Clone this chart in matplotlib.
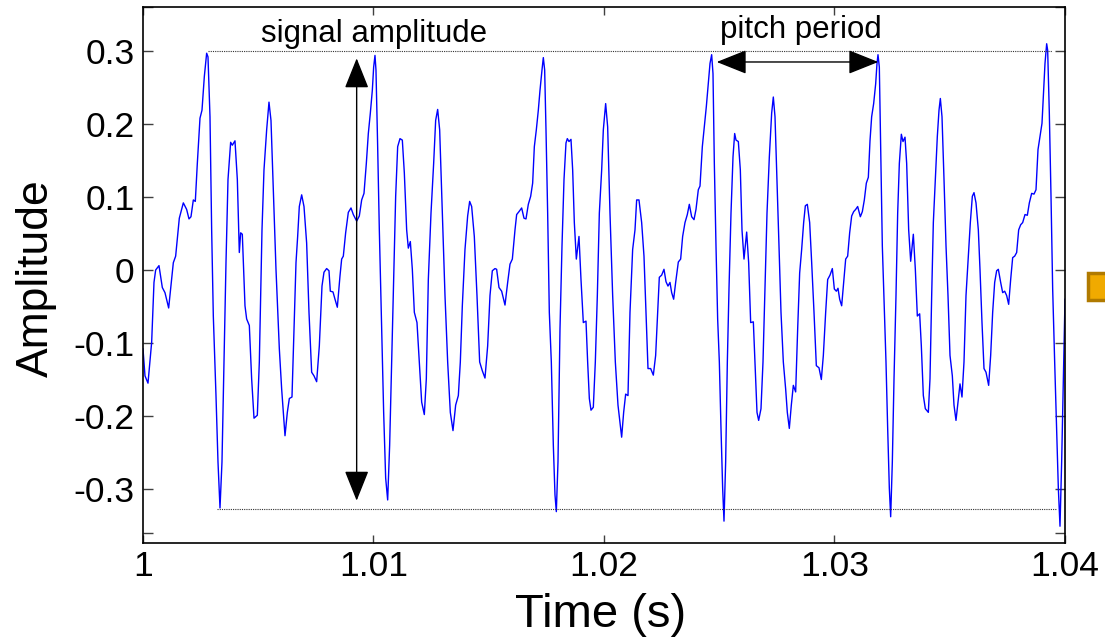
import matplotlib
matplotlib.use('Agg')
import matplotlib.pyplot as plt
import numpy as np
from matplotlib.patches import Rectangle

plt.rcParams['font.family'] = ['Liberation Sans', 'DejaVu Sans']

# waveform: time offset from 1 s in ms, amplitude
time_ms = [
    0.0, 0.087, 0.217, 0.376, 0.477, 0.55, 0.694, 0.839, 0.954, 1.114,
    1.316, 1.417, 1.576, 1.75, 1.894, 1.996, 2.082, 2.184, 2.27, 2.357,
    2.473, 2.56, 2.661, 2.762, 2.82, 2.907, 2.979, 3.051, 3.167, 3.254,
    3.341, 3.427, 3.514, 3.601, 3.688, 3.803, 3.876, 3.991, 4.093, 4.179,
    4.237, 4.309, 4.425, 4.497, 4.613, 4.714, 4.816, 4.96, 5.047, 5.163,
    5.249, 5.365, 5.466, 5.553, 5.654, 5.77, 5.915, 6.016, 6.161, 6.262,
    6.349, 6.464, 6.551, 6.638, 6.71, 6.782, 6.884, 6.985, 7.1, 7.202,
    7.317, 7.419, 7.534, 7.65, 7.766, 7.852, 7.968, 8.069,
    8.127, 8.243, 8.33, 8.431, 8.547, 8.619, 8.691, 8.792, 8.908, 9.024,
    9.125, 9.27, 9.385, 9.487, 9.588, 9.689, 9.776, 9.863, 9.949, 10.007,
    10.065, 10.108, 10.181, 10.253, 10.354, 10.441, 10.528, 10.615, 10.701, 10.788,
    10.875, 10.962, 11.049, 11.15, 11.251, 11.338, 11.439, 11.511, 11.598, 11.685,
    11.772, 11.887, 11.988, 12.09, 12.205, 12.292, 12.379, 12.495, 12.61, 12.697,
    12.784, 12.871, 12.986, 13.102, 13.218, 13.333, 13.449, 13.565, 13.681, 13.767,
    13.854, 13.969, 14.085, 14.172, 14.259, 14.374, 14.49, 14.606, 14.721, 14.837,
    14.953, 15.054, 15.155, 15.271, 15.343, 15.445, 15.56, 15.705, 15.821, 15.922,
    16.024, 16.139,
    16.211, 16.312, 16.428, 16.529, 16.616, 16.717, 16.819, 16.905, 16.978, 17.064,
    17.151, 17.223, 17.31, 17.368, 17.426, 17.484, 17.556, 17.628, 17.715, 17.802,
    17.874, 17.932, 18.004, 18.091, 18.178, 18.265, 18.351, 18.409, 18.482, 18.568,
    18.641, 18.713, 18.8, 18.915, 19.002, 19.103, 19.219, 19.291, 19.364, 19.436,
    19.537, 19.624, 19.711, 19.798, 19.899, 19.971, 20.072, 20.159, 20.26, 20.376,
    20.492, 20.607, 20.766, 20.853, 20.94, 21.041, 21.128, 21.243, 21.345, 21.417,
    21.518, 21.634, 21.735, 21.822, 21.909, 22.024, 22.14, 22.241, 22.328, 22.4,
    22.502, 22.603, 22.69, 22.776, 22.863, 22.936, 23.022, 23.109, 23.225, 23.326,
    23.412, 23.514, 23.615, 23.702, 23.803, 23.905, 23.991, 24.092, 24.165,
    24.266, 24.353, 24.44, 24.526, 24.599, 24.671, 24.729, 24.787, 24.859, 24.931,
    25.004, 25.076, 25.148, 25.206, 25.278, 25.351, 25.423, 25.51, 25.597, 25.669,
    25.727, 25.828, 25.915, 25.987, 26.074, 26.19, 26.276, 26.363, 26.479, 26.551,
    26.638, 26.71, 26.811, 26.898, 26.985, 27.072, 27.173, 27.274, 27.346, 27.419,
    27.505, 27.592, 27.679, 27.78, 27.881, 27.953, 28.04, 28.127, 28.214, 28.315,
    28.402, 28.489, 28.575, 28.662, 28.735, 28.821, 28.923, 29.01, 29.111, 29.212,
    29.328, 29.429, 29.516, 29.617, 29.704, 29.805, 29.906, 29.993, 30.08, 30.152,
    30.224, 30.311, 30.398, 30.485, 30.571, 30.658, 30.745, 30.832, 30.918, 31.005,
    31.121, 31.208, 31.294, 31.381, 31.468, 31.54, 31.612, 31.699, 31.786, 31.844,
    31.887, 31.945, 32.003, 32.075,
    32.177, 32.234, 32.307, 32.379, 32.437, 32.509, 32.582, 32.668, 32.741, 32.813,
    32.9, 32.972, 33.059, 33.131, 33.218, 33.305, 33.42, 33.507, 33.594, 33.695,
    33.767, 33.854, 33.941, 34.071, 34.143, 34.216, 34.288, 34.375, 34.461, 34.534,
    34.592, 34.664, 34.751, 34.838, 34.924, 35.011, 35.112, 35.184, 35.271, 35.358,
    35.445, 35.531, 35.618, 35.705, 35.806, 35.893, 35.98, 36.052, 36.139, 36.24,
    36.312, 36.399, 36.486, 36.573, 36.688, 36.775, 36.862, 36.949, 37.035, 37.108,
    37.209, 37.296, 37.383, 37.469, 37.556, 37.643, 37.73, 37.817, 37.903, 37.99,
    38.077, 38.164, 38.265, 38.366, 38.453, 38.554, 38.655, 38.742, 38.829, 38.915,
    39.002, 39.06, 39.132, 39.205, 39.248, 39.32, 39.393, 39.465, 39.552, 39.638,
    39.711, 39.783, 39.855, 39.928, 39.971, 40.0,
]
amplitude = [
    -0.108, -0.145, -0.155, -0.099, -0.017, 0.0, 0.006, -0.024, -0.031, -0.052,
    0.01, 0.019, 0.071, 0.092, 0.083, 0.07, 0.073, 0.096, 0.094, 0.146,
    0.208, 0.219, 0.265, 0.297, 0.292, 0.21, 0.055, -0.063, -0.172, -0.263,
    -0.326, -0.263, -0.126, 0.01, 0.124, 0.175, 0.171, 0.177, 0.124, 0.024,
    0.051, 0.049, -0.049, -0.067, -0.076, -0.149, -0.203, -0.199, -0.126, 0.055,
    0.137, 0.192, 0.23, 0.205, 0.11, 0.001, -0.108, -0.163, -0.227, -0.195,
    -0.176, -0.174, -0.081, 0.01, 0.046, 0.087, 0.103, 0.087, 0.037, -0.058,
    -0.14, -0.145, -0.153, -0.104, -0.022, -0.003, 0.002, -0.001,
    -0.029, -0.03, -0.04, -0.051, -0.008, 0.015, 0.019, 0.051, 0.079, 0.085,
    0.076, 0.067, 0.074, 0.096, 0.105, 0.146, 0.187, 0.215, 0.246, 0.278,
    0.294, 0.274, 0.169, 0.055, -0.081, -0.195, -0.285, -0.315, -0.24, -0.126,
    -0.013, 0.101, 0.169, 0.18, 0.178, 0.133, 0.055, 0.03, 0.039, 0.001,
    -0.058, -0.072, -0.126, -0.181, -0.198, -0.149, -0.013, 0.078, 0.146, 0.205,
    0.22, 0.192, 0.078, -0.035, -0.126, -0.195, -0.22, -0.185, -0.172, -0.126,
    -0.049, 0.028, 0.074, 0.094, 0.087, 0.046, -0.035, -0.126, -0.138, -0.148,
    -0.104, -0.035, -0.001, 0.002, 0.001, -0.024, -0.029, -0.048, -0.017, 0.008,
    0.015, 0.055,
    0.076, 0.08, 0.085, 0.071, 0.07, 0.09, 0.101, 0.119, 0.169, 0.192,
    0.219, 0.246, 0.274, 0.291, 0.274, 0.192, 0.078, -0.058, -0.126, -0.24,
    -0.308, -0.331, -0.263, -0.081, 0.033, 0.124, 0.174, 0.18, 0.176, 0.179,
    0.137, 0.065, 0.015, 0.046, -0.013, -0.072, -0.07, -0.126, -0.176, -0.192,
    -0.188, -0.126, -0.035, 0.078, 0.137, 0.192, 0.228, 0.196, 0.078, -0.035,
    -0.126, -0.185, -0.229, -0.195, -0.17, -0.172, -0.058, 0.028, 0.055, 0.096,
    0.096, 0.065, 0.019, -0.058, -0.135, -0.135, -0.144, -0.117, -0.058, -0.01,
    -0.007, 0.001, -0.016, -0.022, -0.017, -0.031, -0.04, -0.017, 0.011, 0.015,
    0.046, 0.065, 0.076, 0.09, 0.073, 0.069, 0.083, 0.11, 0.115,
    0.169, 0.196, 0.224, 0.255, 0.283, 0.295, 0.269, 0.146, 0.033, -0.067,
    -0.126, -0.217, -0.299, -0.344, -0.263, -0.126, -0.026, 0.078, 0.155, 0.187,
    0.178, 0.176, 0.137, 0.055, 0.015, 0.052, 0.01, -0.072, -0.071, -0.126,
    -0.195, -0.206, -0.19, -0.126, -0.026, 0.078, 0.155, 0.215, 0.237, 0.21,
    0.124, 0.033, -0.058, -0.126, -0.163, -0.195, -0.217, -0.185, -0.158, -0.167,
    -0.081, -0.004, 0.028, 0.065, 0.088, 0.09, 0.065, 0.01, -0.058, -0.131,
    -0.134, -0.15, -0.117, -0.058, -0.013, -0.007, 0.002, -0.026, -0.029, -0.025,
    -0.04, -0.049, -0.017, 0.015, 0.019, 0.051, 0.074, 0.08, 0.083, 0.087,
    0.073, 0.08, 0.096, 0.119, 0.127, 0.177, 0.21, 0.228, 0.255, 0.283,
    0.295, 0.278, 0.169, 0.033,
    -0.067, -0.126, -0.217, -0.299, -0.338, -0.263, -0.149, -0.035, 0.078, 0.146,
    0.186, 0.176, 0.182, 0.146, 0.055, 0.012, 0.049, 0.001, -0.063, -0.06,
    -0.104, -0.172, -0.19, -0.195, -0.149, -0.035, 0.065, 0.124, 0.183, 0.219,
    0.235, 0.21, 0.124, 0.033, -0.035, -0.117, -0.145, -0.185, -0.206, -0.181,
    -0.156, -0.174, -0.126, -0.035, 0.019, 0.065, 0.101, 0.106, 0.092, 0.055,
    0.001, -0.072, -0.135, -0.14, -0.158, -0.117, -0.058, -0.017, -0.001, 0.001,
    -0.017, -0.031, -0.029, -0.035, -0.047, -0.013, 0.017, 0.019, 0.024, 0.055,
    0.062, 0.065, 0.076, 0.075, 0.092, 0.105, 0.104, 0.11, 0.165, 0.183,
    0.201, 0.237, 0.283, 0.31, 0.301, 0.215, 0.101, -0.026, -0.126, -0.217,
    -0.299, -0.351, -0.263, -0.149, -0.08, -0.04,
]

x_ticks = [1.0, 1.01, 1.02, 1.03, 1.04]
x_tick_labels = ['1', '1.01', '1.02', '1.03', '1.04']
y_ticks = [-0.36, -0.3, -0.2, -0.1, 0.0, 0.1, 0.2, 0.3, 0.36]
y_tick_labels = ['', '-0.3', '-0.2', '-0.1', '0', '0.1', '0.2', '0.3', '']

# annotation levels (ms / amplitude)
peak_level = 0.3
trough_level = -0.327
amp_arrow_t = 9.27
period_start, period_end = 24.89, 31.9

t = 1.0 + np.array(time_ms) / 1000.0
a = np.array(amplitude)

fig = plt.figure(figsize=(11.05, 6.44), dpi=100)
ax = fig.add_axes([0.1294, 0.1568, 0.8344, 0.8323])

ax.plot(t, a, color='#0000ff', linewidth=1.0)

# dotted reference lines at max / min
ax.plot([1 + 2.82e-3, 1 + 39.44e-3], [peak_level, peak_level],
        color='0.2', linestyle=(0, (1, 1)), linewidth=0.8)
ax.plot([1 + 3.2e-3, 1 + 39.64e-3], [trough_level, trough_level],
        color='0.2', linestyle=(0, (1, 1)), linewidth=0.8)

arrow_kw = dict(arrowstyle='<|-|>,head_length=0.95,head_width=0.38',
                color='black', lw=1.0, mutation_scale=20,
                shrinkA=0, shrinkB=0)
ax.annotate('', xy=(1 + amp_arrow_t / 1000, 0.29),
            xytext=(1 + amp_arrow_t / 1000, -0.316), arrowprops=arrow_kw)
ax.annotate('', xy=(1 + period_start / 1000, 0.285),
            xytext=(1 + period_end / 1000, 0.285), arrowprops=arrow_kw)

ax.text(1 + 10.02e-3, 0.3127, 'signal amplitude', fontsize=22.5,
        ha='center', va='baseline')
ax.text(1 + 28.55e-3, 0.318, 'pitch period', fontsize=22.5,
        ha='center', va='baseline')

ax.set_xlim(1.0, 1.04)
ax.set_ylim(-0.374, 0.3603)
ax.set_xticks(x_ticks)
ax.set_xticklabels(x_tick_labels)
ax.set_yticks(y_ticks)
ax.set_yticklabels(y_tick_labels)

ax.tick_params(axis='both', direction='in', top=True, right=True,
               labelsize=25.5, width=1.0, color='0.25')
ax.tick_params(axis='y', length=7, pad=6)
ax.tick_params(axis='x', length=6, pad=5)
for sp in ax.spines.values():
    sp.set_linewidth(1.2)

ax.set_xlabel('Time (s)', fontsize=34)
ax.xaxis.set_label_coords(0.496, -0.134)
ax.xaxis.label.set_va('center')
ax.set_ylabel('Amplitude', fontsize=32, va='center')
ax.yaxis.set_label_coords(-0.116, 0.494)

# bit of a neighbouring figure cut off at the right edge
fig.patches.append(Rectangle((1088 / 1105, 1 - 300 / 644), 0.03, 27 / 644,
                             transform=fig.transFigure, facecolor='#f0aa00',
                             edgecolor='#b07a00', linewidth=2.5))

fig.savefig('out.png', dpi=100)
